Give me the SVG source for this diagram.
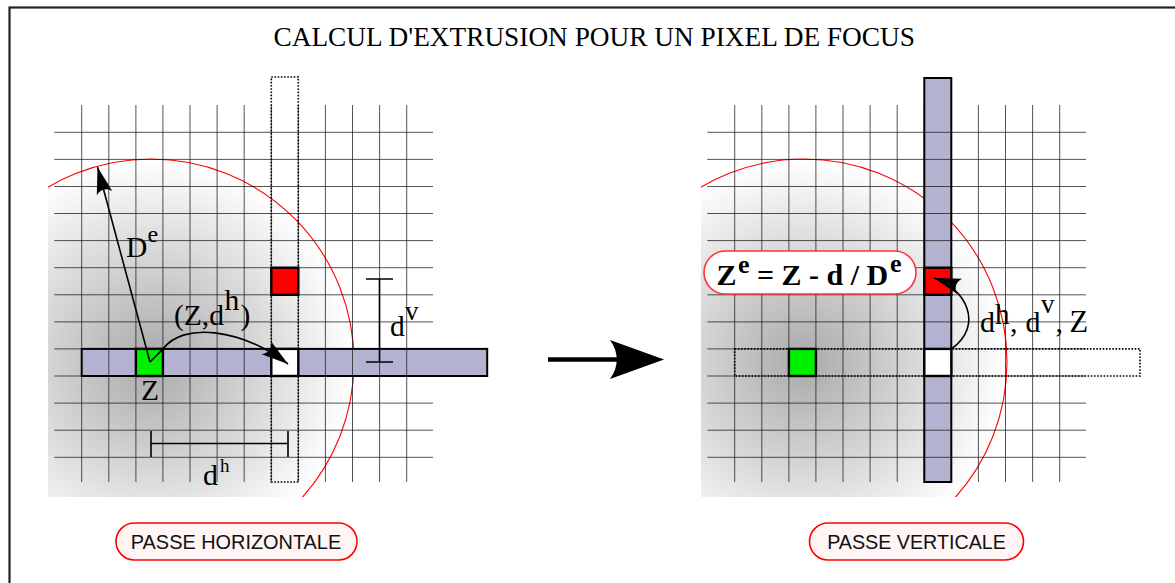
<svg xmlns="http://www.w3.org/2000/svg" xmlns:xlink="http://www.w3.org/1999/xlink" width="1175" height="583" viewBox="0 0 1175 583">
<style>
.grid{fill:none;stroke:#1a1a1a;stroke-opacity:.75;stroke-width:1}
.bar{fill:#b3b3d1}
.edge{fill:none;stroke:#000;stroke-width:2}
.dot{fill:none;stroke:#000;stroke-width:1.6;stroke-dasharray:1.6 1.6}
.circ{fill:none;stroke:#f00;stroke-width:1.1}
.ln{fill:none;stroke:#000;stroke-width:1.6}
.serif{font-family:"Liberation Serif","Times New Roman",serif;fill:#000}
.sans{font-family:"Liberation Sans",Arial,sans-serif;fill:#111}
.pill{fill:#fff5f5;stroke:#f00;stroke-width:1.6}
</style>
<defs>
<radialGradient id="shade" gradientUnits="userSpaceOnUse" cx="151" cy="362" r="203">
<stop offset="0" stop-color="#a9a9a9"/>
<stop offset="1" stop-color="#ffffff"/>
</radialGradient>
<clipPath id="clipL"><rect x="48" y="100" width="420" height="397"/></clipPath>
<marker id="ah" markerUnits="userSpaceOnUse" orient="auto" refX="0" refY="0" markerWidth="1" markerHeight="1" overflow="visible">
<path d="M0,0 L-27,-8 C-22,-3 -22,3 -27,8 Z" fill="#000"/>
</marker>
<g id="gridLines">
<path class="grid" d="M81.7,105V482M108.8,105V482M135.9,105V482M162.9,105V482M190,105V482M217.1,105V482M244.2,105V482M271.3,105V482M298.3,105V482M325.4,105V482M352.5,105V482M379.6,105V482M406.7,105V482"/>
<path class="grid" d="M54.3,132.3H433M54.3,159.4H433M54.3,186.5H433M54.3,213.5H433M54.3,240.6H433M54.3,267.7H433M54.3,294.8H433M54.3,321.9H433M54.3,348.9H433M54.3,376H433M54.3,403.1H433M54.3,430.2H433M54.3,457.3H433"/>
</g>
<g id="shadeDisc" clip-path="url(#clipL)">
<circle cx="151" cy="362" r="203" fill="url(#shade)"/>
<circle class="circ" cx="151" cy="362" r="203"/>
</g>
</defs>

<rect x="9.5" y="7.5" width="1200" height="600" fill="#fff" stroke="#222" stroke-width="2.2"/>

<text class="serif" x="273.5" y="46" font-size="27.3">CALCUL D'EXTRUSION POUR UN PIXEL DE FOCUS</text>

<!-- LEFT: horizontal pass -->
<g id="passe-horizontale-panel">
<use xlink:href="#shadeDisc"/>
<use xlink:href="#gridLines"/>
<rect class="bar" x="81.7" y="348.9" width="405.5" height="27.1"/>
<path class="grid" d="M108.8,348.9V376M190,348.9V376M217.1,348.9V376M244.2,348.9V376M325.4,348.9V376M352.5,348.9V376M379.6,348.9V376M406.7,348.9V376"/>
<rect class="edge" x="81.7" y="348.9" width="405.5" height="27.1"/>
<rect class="dot" x="271.3" y="77" width="27" height="405"/>
</g>
<g id="pixel-z-left"><rect x="135.9" y="348.9" width="27" height="27.1" fill="#00f000" stroke="#000" stroke-width="2.4"/></g>
<g id="pixel-target-left"><rect x="271.3" y="348.9" width="27" height="27.1" fill="#fff" stroke="#000" stroke-width="2.4"/></g>
<g id="pixel-red-left"><rect x="271.3" y="267.7" width="27" height="27.1" fill="#f00" stroke="#000" stroke-width="2.4"/></g>

<!-- RIGHT: vertical pass -->
<g id="passe-verticale-panel">
<use xlink:href="#shadeDisc" transform="translate(653,0)"/>
<use xlink:href="#gridLines" transform="translate(653,0)"/>
<rect class="bar" x="924.3" y="78" width="27" height="404"/>
<path class="grid" d="M924.3,132.3H951.3M924.3,159.4H951.3M924.3,186.5H951.3M924.3,213.5H951.3M924.3,240.6H951.3M924.3,321.9H951.3M924.3,403.1H951.3M924.3,430.2H951.3M924.3,457.3H951.3"/>
<rect class="edge" x="924.3" y="78" width="27" height="404"/>
<rect class="dot" x="734.7" y="348.9" width="405.3" height="27.1"/>
</g>
<g id="pixel-z-right"><rect x="788.9" y="348.9" width="27" height="27.1" fill="#00f000" stroke="#000" stroke-width="2.4"/></g>
<g id="pixel-target-right"><rect x="924.3" y="348.9" width="27" height="27.1" fill="#fff" stroke="#000" stroke-width="2.4"/></g>
<g id="pixel-red-right"><rect x="924.3" y="267.7" width="27" height="27.1" fill="#f00" stroke="#000" stroke-width="2.4"/></g>

<!-- connectors -->
<g id="connectors">
<path class="ln" d="M150,362 L97.5,167" marker-end="url(#ah)"/>
<path class="ln" d="M150,362 L163,349 C183,322 240,328 288,364" marker-end="url(#ah)"/>
<path class="ln" d="M951.3,349 C985,325 965,288 934,278" marker-end="url(#ah)"/>
<path class="ln" d="M151,443.5H288M151,431V457M288,431V457"/>
<path class="ln" d="M379.5,279V362M366,279H393M366,362H393"/>
<path d="M548,359.5H617" stroke="#000" stroke-width="4.5" fill="none"/>
<path d="M664,359.5 L610,340 C619,352 619,367 610,379 Z" fill="#000"/>
</g>

<!-- labels -->
<g id="labels-left">
<text class="serif" x="126" y="257" font-size="29.5">D</text>
<text class="serif" x="147.5" y="241.5" font-size="24">e</text>
<text class="serif" x="174" y="325" font-size="29.5">(Z,d</text>
<text class="serif" x="224.5" y="310" font-size="29.5">h</text>
<text class="serif" x="240.5" y="325" font-size="29.5">)</text>
<text class="serif" x="141" y="400" font-size="29.5">Z</text>
<text class="serif" x="203" y="485" font-size="30">d</text>
<text class="serif" x="220" y="472" font-size="19">h</text>
<text class="serif" x="390" y="336" font-size="29.5">d</text>
<text class="serif" x="405" y="320" font-size="27">v</text>
</g>
<g id="labels-right">
<text class="serif" x="980" y="332" font-size="30">d</text>
<text class="serif" x="995" y="324" font-size="29">h</text>
<text class="serif" x="1010" y="332" font-size="30">,</text>
<text class="serif" x="1025.5" y="332" font-size="30">d</text>
<text class="serif" x="1041" y="313" font-size="27">v</text>
<text class="serif" x="1055.5" y="332" font-size="30">,</text>
<text class="serif" x="1069.5" y="332" font-size="30.5">Z</text>
</g>
<g id="formula">
<rect x="704" y="251" width="212" height="43" rx="21.5" fill="#fff" stroke="#f33" stroke-width="1.6"/>
<text class="serif" font-weight="bold" x="716.5" y="285" font-size="30">Z</text>
<text class="serif" font-weight="bold" x="738" y="273" font-size="26">e</text>
<text class="serif" font-weight="bold" x="757" y="285" font-size="30">= Z - d / D</text>
<text class="serif" font-weight="bold" x="890" y="272" font-size="26">e</text>
</g>
<g id="label-passe-horizontale">
<rect class="pill" x="116" y="523" width="241" height="37" rx="18.5"/>
<text class="sans" x="236" y="548.5" font-size="19.9" text-anchor="middle">PASSE HORIZONTALE</text>
</g>
<g id="label-passe-verticale">
<rect class="pill" x="809.5" y="523" width="214" height="37" rx="18.5"/>
<text class="sans" x="916.5" y="548.5" font-size="19.7" text-anchor="middle">PASSE VERTICALE</text>
</g>
</svg>
